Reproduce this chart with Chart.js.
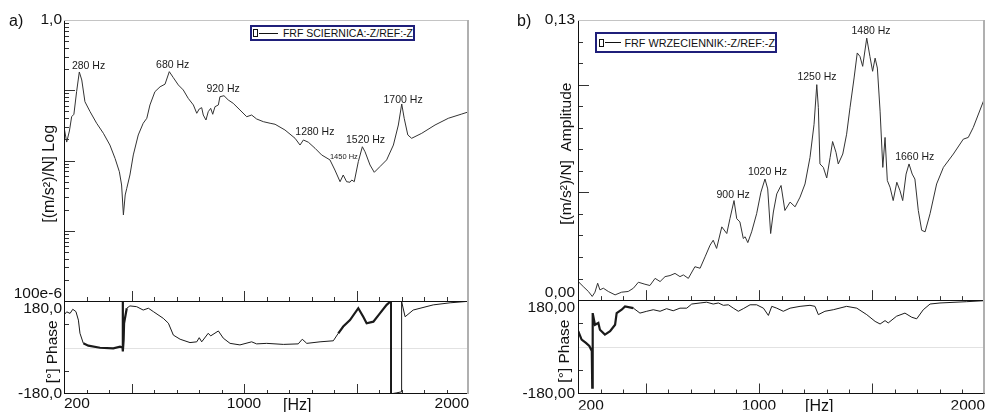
<!DOCTYPE html>
<html>
<head>
<meta charset="utf-8">
<script src="https://cdn.jsdelivr.net/npm/chart.js@4.4.1/dist/chart.umd.min.js"></script>
<style>
  html, body { margin: 0; padding: 0; background: #fff; }
  #wrap { position: relative; width: 998px; height: 412px; overflow: hidden; font-family: "Liberation Sans", Arial, sans-serif; color: #111; }
  canvas { position: absolute; top: 0; }
  .lbl { position: absolute; font-size: 16px; line-height: 18px; white-space: nowrap; }
  .leg { position: absolute; box-sizing: border-box; border: 2px solid #1f1f7a; background: #fff; display: flex; align-items: center; white-space: nowrap; }
  .leg .sym { box-sizing: border-box; width: 5px; height: 8px; border: 1px solid #111; }
  .leg .ln { height: 1px; background: #111; }
</style>
</head>
<body>
<div id="wrap">
  <canvas id="ca" width="480" height="412" style="left:0px"></canvas>
  <canvas id="cb" width="508" height="412" style="left:490px"></canvas>
  <div class="lbl" style="left:9px;top:12px;">a)</div>
  <div class="lbl" style="left:517px;top:12px;">b)</div>
  <div class="lbl" style="left:283px;top:396px;">[Hz]</div>
  <div class="lbl" style="left:805px;top:397px;">[Hz]</div>
  <div class="leg" style="left:250px;top:25px;width:165px;height:16px;font-size:10.5px;">
    <span class="sym" style="margin-left:1px;"></span><span class="ln" style="width:22px;margin-left:1px;"></span><span style="margin-left:5px;">FRF SCIERNICA:-Z/REF:-Z</span>
  </div>
  <div class="leg" style="left:595px;top:32px;width:182px;height:21px;font-size:10.8px;">
    <span class="sym" style="margin-left:2px;"></span><span class="ln" style="width:20px;margin-left:1px;"></span><span style="margin-left:3px;">FRF WRZECIENNIK:-Z/REF:-Z</span>
  </div>
</div>
<script>
// ---------------- data: panel a (SCIERNICA) ----------------
const freqMagA = [200,212,224,234,244,256,268,279,293,316,345,375,404,427,446,456,464,472,479,493,508,530,552,568,582,604,627,649,668,686,708,730,752,775,790,801,812,819,831,841,852,861,871,886,893,911,930,952,982,1012,1034,1056,1086,1116,1138,1182,1227,1249,1264,1286,1316,1345,1382,1404,1427,1441,1456,1471,1479,1490,1508,1526,1538,1560,1579,1604,1634,1664,1686,1701,1712,1728,1745,1790,1849,1908,1968,2000];
const magA = [0.0300,0.0183,0.0263,0.0420,0.0455,0.0953,0.182,0.140,0.0687,0.0495,0.0339,0.0244,0.0166,0.0107,0.00693,0.00448,0.00168,0.00323,0.00402,0.00622,0.0120,0.0231,0.0339,0.0399,0.0617,0.0953,0.112,0.122,0.184,0.151,0.119,0.101,0.0768,0.0617,0.0470,0.0541,0.0565,0.0444,0.0377,0.0495,0.0553,0.0455,0.0583,0.0617,0.0809,0.0836,0.0727,0.0652,0.0524,0.0420,0.0444,0.0390,0.0357,0.0339,0.0328,0.0272,0.0207,0.0166,0.0196,0.0182,0.0149,0.0120,0.0102,0.00732,0.00499,0.00622,0.00499,0.00490,0.00528,0.00499,0.00962,0.0157,0.0133,0.00863,0.00679,0.00817,0.0102,0.0166,0.0320,0.0637,0.0399,0.0231,0.0207,0.0244,0.0320,0.0399,0.0459,0.0495];
const freqPhA = [200,212,227,239,253,264,271,286,308,360,419,449,460,461,462,465,467,479,493,523,552,575,597,641,664,686,716,760,790,801,812,841,852,886,908,938,982,1034,1056,1101,1175,1241,1259,1279,1338,1397,1419,1441,1471,1508,1530,1545,1575,1604,1634,1652,1653,1654,1655,1676,1698,1700,1701,1716,1752,1841,1916,2000];
const phaseA = [126,138,132,148,139,106,55,16,7,-1,-3,3,0,178,-15,29,94,152,161,158,145,152,139,113,94,48,32,19,22,38,22,55,45,64,36,16,10,22,14,16,12,14,32,16,22,26,55,81,106,152,119,94,100,132,165,179,-179,178,-179,-176,-172,-171,178,119,145,165,173,179];
const noteTextA = ['280 Hz','680 Hz','920 Hz','1280 Hz','1520 Hz','1450 Hz','1700 Hz'];
const noteFreqA = [309,683,907,1315,1540,1444,1707];
const noteValA  = [0.221,0.229,0.104,0.0255,0.0196,0.0112,0.0727];

// ---------------- data: panel b (WRZECIENNIK) ----------------
const freqAmpB = [201,223,246,263,275,287,297,312,334,364,393,422,445,467,496,518,541,563,585,607,629,651,666,688,717,740,762,784,798,813,836,858,872,890,902,916,931,939,951,968,990,1009,1027,1039,1052,1064,1079,1098,1115,1138,1160,1182,1204,1226,1244,1256,1263,1270,1285,1300,1315,1326,1341,1351,1371,1388,1403,1421,1435,1447,1459,1477,1491,1503,1514,1524,1536,1548,1558,1568,1580,1594,1610,1624,1636,1651,1664,1678,1690,1705,1720,1735,1757,1786,1816,1860,1904,1926,1948,1993,2000];
const ampB = [0.00862,0.00632,0.00401,0.00171,0.00369,0.00784,0.00475,0.00553,0.00401,0.00244,0.00369,0.00401,0.00553,0.00830,0.00738,0.00678,0.0101,0.00862,0.0109,0.0114,0.0124,0.0109,0.0117,0.0101,0.0155,0.0148,0.0201,0.0255,0.0278,0.0240,0.0340,0.0309,0.0378,0.0462,0.0378,0.0363,0.0286,0.0294,0.0267,0.0317,0.0401,0.0501,0.0562,0.0516,0.0309,0.0409,0.0493,0.0532,0.0416,0.0455,0.0433,0.0478,0.0539,0.0662,0.0816,0.1000,0.0893,0.0632,0.0616,0.0567,0.0662,0.0736,0.0686,0.0632,0.0678,0.0770,0.0893,0.1031,0.1147,0.1131,0.1085,0.1216,0.1131,0.1062,0.1123,0.1077,0.0877,0.0616,0.0755,0.0555,0.0524,0.0462,0.0547,0.0508,0.0462,0.0585,0.0632,0.0585,0.0562,0.0416,0.0324,0.0317,0.0401,0.0539,0.0616,0.0678,0.0747,0.0755,0.0801,0.0923,0.0946];
const freqPhB = [201,216,235,250,261,263,265,275,290,297,319,342,364,371,393,408,445,474,504,533,563,592,621,651,681,703,740,769,798,821,843,865,887,909,931,961,990,1020,1042,1057,1079,1108,1138,1182,1226,1248,1263,1292,1329,1388,1433,1477,1514,1536,1558,1572,1609,1646,1676,1698,1727,1757,1801,1919,2000];
const phaseB = [60,28,15,3,-16,-157,130,85,92,66,47,60,85,130,143,156,149,130,137,143,137,147,139,149,149,165,169,172,165,169,160,162,149,137,147,162,162,149,121,156,149,137,149,156,160,156,124,137,143,156,149,124,98,88,101,92,118,130,114,108,143,165,169,174,178];
const noteTextB = ['900 Hz','1020 Hz','1250 Hz','1480 Hz','1660 Hz'];
const noteFreqB = [886,1038,1257,1496,1689];
const noteValB  = [0.0489,0.0595,0.1033,0.1249,0.0664];

// ---------------- axes / ticks ----------------
const xMin = 200, xMax = 2000;
const xTickLabels = [200, 1000, 2000];
const xMinorTicks = [300,400,600,700,800,900,1100,1200,1300,1400,1600,1700,1800,1900];
const xMajorTicks = [500,1000,1500];
const magRangeA = [1e-4, 1];
const magMajorA = [0.001, 0.01, 0.1];
const magMinorA = [];
for (const d of [1e-4, 1e-3, 1e-2, 1e-1]) for (let k = 2; k <= 9; k++) magMinorA.push(+(k * d).toPrecision(3));
const ampRangeB = [0, 0.13];
const ampMajorB = [0.05, 0.10];
const ampMinorB = [0.01,0.02,0.03,0.04,0.06,0.07,0.08,0.09,0.11,0.12];
const phaseRange = [-180, 180];
const phaseMinor = [-90, 90];

const FONT = '"Liberation Sans", Arial, sans-serif';
Chart.defaults.font.family = FONT;
Chart.defaults.color = '#111';

function hline(ctx, x1, x2, y) { ctx.beginPath(); ctx.moveTo(x1, y); ctx.lineTo(x2, y); ctx.stroke(); }
function vline(ctx, x, y1, y2) { ctx.beginPath(); ctx.moveTo(x, y1); ctx.lineTo(x, y2); ctx.stroke(); }

const framePlugin = {
  id: 'frame',
  beforeDatasetsDraw(chart) {
    const {ctx, chartArea: ca} = chart;
    const ph = chart.scales.yPhase;
    ctx.save();
    ctx.strokeStyle = '#e2e2e2';
    ctx.lineWidth = 1;
    hline(ctx, ca.left, ca.right, Math.round(ph.getPixelForValue(0)) + 0.5);
    ctx.restore();
  },
  afterDatasetsDraw(chart, args, o) {
    const {ctx, chartArea: ca} = chart;
    const xs = chart.scales.x, ym = chart.scales.yMag, ph = chart.scales.yPhase;
    ctx.save();
    ctx.lineWidth = 1;
    ctx.strokeStyle = '#333';
    for (const [vals, len] of [[o.xMinor, 4], [o.xMajor, 10]]) {
      for (const v of vals) {
        const px = Math.round(xs.getPixelForValue(v)) + 0.5;
        vline(ctx, px, ym.bottom, ym.bottom - len);
        vline(ctx, px, ph.bottom, ph.bottom - len);
      }
    }
    for (const [vals, len] of [[o.magMinor, 5], [o.magMajor, 11]]) {
      for (const v of vals) {
        const py = Math.round(ym.getPixelForValue(v)) + 0.5;
        hline(ctx, ca.left, ca.left + len, py);
      }
    }
    for (const v of o.phMinor) {
      const py = Math.round(ph.getPixelForValue(v)) + 0.5;
      hline(ctx, ca.left, ca.left + 5, py);
    }
    // frame
    ctx.strokeStyle = '#111';
    vline(ctx, ca.left + 0.5, ca.top, ca.bottom);
    hline(ctx, ca.left, ca.right, Math.round(ym.bottom) + 0.5);
    hline(ctx, ca.left, ca.right, Math.round(ph.bottom) - 0.5);
    ctx.strokeStyle = '#c4c4c4';
    hline(ctx, ca.left, ca.right, ca.top + 0.5);
    ctx.lineWidth = 2;
    ctx.strokeStyle = '#b0b0b0';
    vline(ctx, ca.right - 1, ca.top, ca.bottom);
    // peak notes
    ctx.fillStyle = '#1a1a1a';
    ctx.textAlign = 'center';
    ctx.textBaseline = 'middle';
    o.notes.text.forEach((t, i) => {
      ctx.font = (o.small.includes(t) ? 7.5 : 10.5) + 'px ' + FONT;
      ctx.fillText(t, xs.getPixelForValue(o.notes.freq[i]), ym.getPixelForValue(o.notes.val[i]));
    });
    ctx.restore();
  }
};

function pts(xs, ys) { return xs.map((x, i) => ({x: x, y: ys[i]})); }

function makeChart(id, cfg) {
  const tickFont = {size: 15.5, family: FONT, lineHeight: 1.0};
  const noGrid = { display: false, drawTicks: false, tickLength: 0 };
  return new Chart(document.getElementById(id), {
    type: 'line',
    data: {
      datasets: [
        { data: pts(cfg.magX, cfg.magY), yAxisID: 'yMag', borderColor: '#333', borderWidth: 1, pointRadius: 0, tension: 0, fill: false },
        { data: pts(cfg.phX, cfg.phY), yAxisID: 'yPhase', borderColor: '#1a1a1a', borderWidth: 1, pointRadius: 0, tension: 0, fill: false,
          segment: { borderWidth: c => cfg.noisy(c.p0.parsed.x) ? 2.2 : 1 } }
      ]
    },
    options: {
      responsive: false,
      animation: false,
      events: [],
      layout: { padding: { top: 20, right: cfg.padRight, bottom: 0, left: 0 } },
      plugins: {
        legend: { display: false },
        tooltip: { enabled: false },
        title: { display: false },
        frame: { xMinor: xMinorTicks, xMajor: xMajorTicks, magMinor: cfg.magMinor, magMajor: cfg.magMajor, phMinor: phaseMinor,
                 notes: cfg.notes, small: ['1450 Hz'] }
      },
      scales: {
        x: {
          type: 'linear', position: 'bottom', min: xMin, max: xMax,
          grid: noGrid, border: { display: false },
          afterBuildTicks: s => { s.ticks = xTickLabels.map(v => ({value: v})); },
          afterFit: s => { s.height = cfg.xAxisH; },
          ticks: { align: 'inner', maxRotation: 0, minRotation: 0, autoSkip: false, padding: cfg.xPad, font: {size: 15.5, family: FONT},
                   callback: v => String(v) }
        },
        yMag: {
          type: cfg.magType, position: 'left', stack: 'p', stackWeight: cfg.magWeight, weight: 2,
          min: cfg.magRange[0], max: cfg.magRange[1],
          grid: noGrid, border: { display: false },
          afterBuildTicks: s => { s.ticks = cfg.magRange.map(v => ({value: v})); },
          afterFit: s => { s.width = cfg.yAxisW; },
          ticks: { autoSkip: false, padding: cfg.yPad, font: tickFont, callback: cfg.magLabel },
          title: { display: true, text: cfg.magTitle, font: {size: cfg.magTitleSize, family: FONT, lineHeight: 1.2}, padding: {top: cfg.magTitlePad, bottom: 0}, color: '#111' }
        },
        yPhase: {
          type: 'linear', position: 'left', stack: 'p', stackWeight: cfg.phWeight, weight: 1,
          min: phaseRange[0], max: phaseRange[1],
          grid: noGrid, border: { display: false },
          afterBuildTicks: s => { s.ticks = phaseRange.map(v => ({value: v})); },
          afterFit: s => { s.width = cfg.yAxisW; },
          ticks: { autoSkip: false, padding: cfg.yPad, font: tickFont, callback: cfg.phLabel },
          title: { display: true, text: cfg.phTitle, font: {size: 15.5, family: FONT, lineHeight: 1.2}, padding: {top: cfg.phTitlePad, bottom: 0}, color: '#111' }
        }
      }
    },
    plugins: [framePlugin]
  });
}

makeChart('ca', {
  magX: freqMagA, magY: magA, phX: freqPhA, phY: phaseA,
  noisy: f => (f >= 280 && f < 470) || (f >= 1410 && f < 1652),
  padRight: 11, xAxisH: 18, xPad: 0, yAxisW: 64, yPad: 2,
  magType: 'logarithmic', magRange: magRangeA, magWeight: 281, phWeight: 93,
  magMinor: magMinorA, magMajor: magMajorA,
  magLabel: v => v >= 0.5 ? '1,0' : ['100e-6', ''],
  phLabel: v => v > 0 ? ['', '180,0'] : '-180,0',
  magTitle: '[(m/s²)/N] Log      ', magTitleSize: 16, magTitlePad: 40,
  phTitle: '[°] Phase  ', phTitlePad: 43,
  notes: { text: noteTextA, freq: noteFreqA, val: noteValA }
});

makeChart('cb', {
  magX: freqAmpB, magY: ampB, phX: freqPhB, phY: phaseB,
  noisy: f => f < 420,
  padRight: 13, xAxisH: 16, xPad: 3, yAxisW: 88, yPad: 3,
  magType: 'linear', magRange: ampRangeB, magWeight: 282, phWeight: 94,
  magMinor: ampMinorB, magMajor: ampMajorB,
  magLabel: v => v > 0.06 ? '0,13' : ['0,00', ''],
  phLabel: v => v > 0 ? ['', '180,00'] : '-180,00',
  magTitle: '   [(m/s²)/N]  Amplitude', magTitleSize: 15.5, magTitlePad: 67,
  phTitle: '[°] Phase  ', phTitlePad: 65,
  notes: { text: noteTextB, freq: noteFreqB, val: noteValB }
});
</script>
</body>
</html>
